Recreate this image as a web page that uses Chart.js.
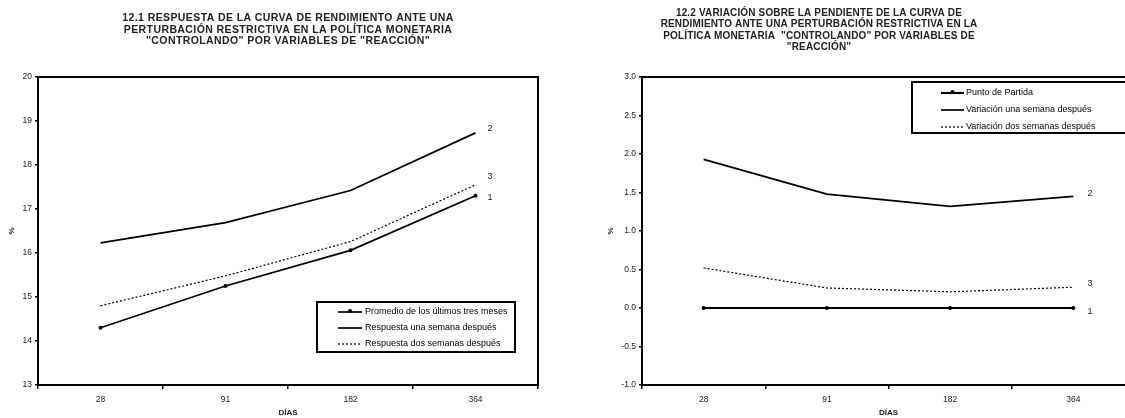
<!DOCTYPE html>
<html>
<head>
<meta charset="utf-8">
<script src="https://cdn.jsdelivr.net/npm/chart.js@4.4.1/dist/chart.umd.min.js"></script>
<style>
  html, body { margin: 0; padding: 0; background: #fff; width: 1125px; height: 418px; overflow: hidden; }
  #c1 { position: absolute; left: 0; top: 0; }
  #c2 { position: absolute; left: 560px; top: 0; }
</style>
</head>
<body>
<canvas id="c1" width="560" height="418"></canvas>
<canvas id="c2" width="580" height="418"></canvas>
<script>
// ---------- DATA ----------
const categories = ['28', '91', '182', '364'];

const leftTitleLines = [
  '12.1 RESPUESTA DE LA CURVA DE RENDIMIENTO ANTE UNA',
  'PERTURBACIÓN RESTRICTIVA EN LA POLÍTICA MONETARIA',
  '"CONTROLANDO" POR VARIABLES DE "REACCIÓN"'
];
const rightTitleLines = [
  '12.2 VARIACIÓN SOBRE LA PENDIENTE DE LA CURVA DE',
  'RENDIMIENTO ANTE UNA PERTURBACIÓN RESTRICTIVA EN LA',
  'POLÍTICA MONETARIA  "CONTROLANDO" POR VARIABLES DE',
  '"REACCIÓN"'
];

const leftLabels = ['Promedio de los últimos tres meses', 'Respuesta una semana después', 'Respuesta dos semanas después'];
const leftPromedio = [14.30, 15.25, 16.06, 17.30];
const leftUnaSemana = [16.23, 16.69, 17.42, 18.73];
const leftDosSemanas = [14.80, 15.48, 16.26, 17.55];
const leftYMin = 13, leftYMax = 20, leftYStep = 1;

const rightLabels = ['Punto de Partida', 'Variación una semana después', 'Variación dos semanas después'];
const rightPartida = [0.0, 0.0, 0.0, 0.0];
const rightUnaSemana = [1.93, 1.48, 1.32, 1.45];
const rightDosSemanas = [0.52, 0.26, 0.21, 0.27];
const rightYMin = -1.0, rightYMax = 3.0, rightYStep = 0.5;

const seriesTags = ['1', '2', '3'];
const xAxisTitle = 'DÍAS';
const yAxisTitle = '%';

// ---------- STYLE ----------
const FONT = '"Liberation Sans", Arial, Helvetica, sans-serif';
const TXT = '#222';

// plugin: fixed multi-line title
const titlePlugin = {
  id: 'fixedTitle',
  afterDraw(chart, args, o) {
    const ctx = chart.ctx;
    ctx.save();
    ctx.font = 'bold ' + o.size + 'px ' + FONT;
    ctx.fillStyle = TXT;
    ctx.textAlign = 'center';
    ctx.textBaseline = 'middle';
    if ('letterSpacing' in ctx) ctx.letterSpacing = o.spacing + 'px';
    o.lines.forEach((t, i) => ctx.fillText(t, o.cx, o.y0 + i * o.lh));
    ctx.restore();
  }
};

// plugin: frame around chart area
const framePlugin = {
  id: 'frame',
  beforeDatasetsDraw(chart) {
    const a = chart.chartArea, ctx = chart.ctx;
    ctx.save();
    ctx.strokeStyle = '#000';
    ctx.lineWidth = 2;
    ctx.strokeRect(a.left, a.top, a.right - a.left, a.bottom - a.top);
    ctx.restore();
  }
};

// plugin: legend box inside the plot
const boxLegendPlugin = {
  id: 'boxLegend',
  afterDatasetsDraw(chart, args, o) {
    const a = chart.chartArea, ctx = chart.ctx;
    const x0 = a.left + o.x, y0 = a.top + o.y;
    ctx.save();
    ctx.fillStyle = '#fff';
    ctx.fillRect(x0, y0, o.w, o.h);
    ctx.strokeStyle = '#000';
    ctx.lineWidth = 2;
    ctx.strokeRect(x0, y0, o.w, o.h);
    chart.data.datasets.forEach((ds, i) => {
      const y = a.top + o.rows[i];
      const sx0 = a.left + o.sx0, sx1 = a.left + o.sx1;
      ctx.strokeStyle = ds.borderColor;
      ctx.lineWidth = ds.borderWidth;
      ctx.setLineDash(ds.borderDash || []);
      ctx.beginPath(); ctx.moveTo(sx0, y); ctx.lineTo(sx1, y); ctx.stroke();
      ctx.setLineDash([]);
      if (ds.pointRadius > 0) {
        ctx.fillStyle = ds.pointBackgroundColor;
        ctx.beginPath(); ctx.arc((sx0 + sx1) / 2, y - 1, ds.pointRadius, 0, Math.PI * 2); ctx.fill();
      }
      ctx.fillStyle = '#000';
      ctx.font = o.size + 'px ' + FONT;
      ctx.textAlign = 'left';
      ctx.textBaseline = 'middle';
      ctx.fillText(ds.label, a.left + o.tx, y);
    });
    ctx.restore();
  }
};

// plugin: series tags next to last point
const tagPlugin = {
  id: 'tags',
  afterDatasetsDraw(chart, args, o) {
    const ctx = chart.ctx;
    ctx.save();
    ctx.font = o.size + 'px ' + FONT;
    ctx.fillStyle = TXT;
    ctx.textAlign = 'left';
    ctx.textBaseline = 'middle';
    chart.data.datasets.forEach((ds, i) => {
      const meta = chart.getDatasetMeta(i);
      const p = meta.data[meta.data.length - 1];
      ctx.fillText(seriesTags[i], p.x + o.dx, p.y + o.dy[i]);
    });
    ctx.restore();
  }
};

function makeDatasets(labels, a, b, c, baseWidth) {
  return [
    { label: labels[0], data: a, borderColor: '#000', borderWidth: baseWidth, pointRadius: 2,
      pointBackgroundColor: '#000', pointBorderColor: '#000', pointBorderWidth: 0, tension: 0 },
    { label: labels[1], data: b, borderColor: '#000', borderWidth: 1.7, pointRadius: 0, tension: 0 },
    { label: labels[2], data: c, borderColor: '#000', borderWidth: 1.2, borderDash: [2, 2], pointRadius: 0, tension: 0 }
  ];
}

function makeOptions(cfg) {
  return {
    responsive: false,
    animation: false,
    layout: { padding: { left: 0, top: 77, right: cfg.padRight, bottom: 0 } },
    plugins: {
      legend: { display: false },
      title: { display: false },
      tooltip: { enabled: false },
      fixedTitle: cfg.title,
      boxLegend: cfg.legend,
      tags: cfg.tags
    },
    scales: {
      x: {
        type: 'category',
        offset: true,
        grid: { offset: true, drawOnChartArea: false, drawTicks: true, tickLength: 4, color: '#000', lineWidth: 1.5 },
        border: { display: true, color: '#000', width: 2 },
        ticks: { font: { family: FONT, size: 8.5 }, color: TXT, padding: 6, maxRotation: 0 },
        title: { display: true, text: xAxisTitle, font: { family: FONT, size: 8, weight: 'bold' }, color: TXT, padding: { top: 0, bottom: 0 } },
        afterFit: s => { s.height = 33; }
      },
      y: {
        min: cfg.ymin, max: cfg.ymax,
        grid: { drawOnChartArea: false, drawTicks: true, tickLength: 3, color: '#000', lineWidth: 1.5 },
        border: { display: true, color: '#000', width: 2 },
        ticks: { stepSize: cfg.ystep, font: { family: FONT, size: 8.5 }, color: TXT, padding: 3,
          callback: cfg.fmt },
        title: { display: true, text: yAxisTitle, font: { family: FONT, size: 8, weight: 'bold' }, color: TXT, padding: { top: cfg.yTitlePad, bottom: 0 } },
        afterFit: s => { s.width = cfg.yWidth; }
      }
    }
  };
}

const plugins = [framePlugin, titlePlugin, boxLegendPlugin, tagPlugin];

new Chart(document.getElementById('c1'), {
  type: 'line',
  data: { labels: categories, datasets: makeDatasets(leftLabels, leftPromedio, leftUnaSemana, leftDosSemanas, 1.7) },
  options: makeOptions({
    padRight: 22, yWidth: 38, yTitlePad: 7,
    ymin: leftYMin, ymax: leftYMax, ystep: leftYStep,
    fmt: v => String(v),
    title: { lines: leftTitleLines, cx: 288, y0: 18.5, lh: 11.4, size: 10.5, spacing: 0.4 },
    legend: { x: 279, y: 225, w: 198, h: 50, rows: [235, 251, 267], sx0: 300, sx1: 324, tx: 327, size: 9 },
    tags: { dx: 12, dy: [2, -4, -8], size: 9 }
  }),
  plugins: plugins
});

new Chart(document.getElementById('c2'), {
  type: 'line',
  data: { labels: categories, datasets: makeDatasets(rightLabels, rightPartida, rightUnaSemana, rightDosSemanas, 2.1) },
  options: makeOptions({
    padRight: 5, yWidth: 82, yTitlePad: 46,
    ymin: rightYMin, ymax: rightYMax, ystep: rightYStep,
    fmt: v => Number(v).toFixed(1),
    title: { lines: rightTitleLines, cx: 259, y0: 13, lh: 11.5, size: 10, spacing: 0.15 },
    legend: { x: 270, y: 5, w: 218, h: 51, rows: [16, 33, 50], sx0: 299, sx1: 322, tx: 324, size: 9 },
    tags: { dx: 14, dy: [4, -3, -4], size: 9 }
  }),
  plugins: plugins
});
</script>
</body>
</html>
